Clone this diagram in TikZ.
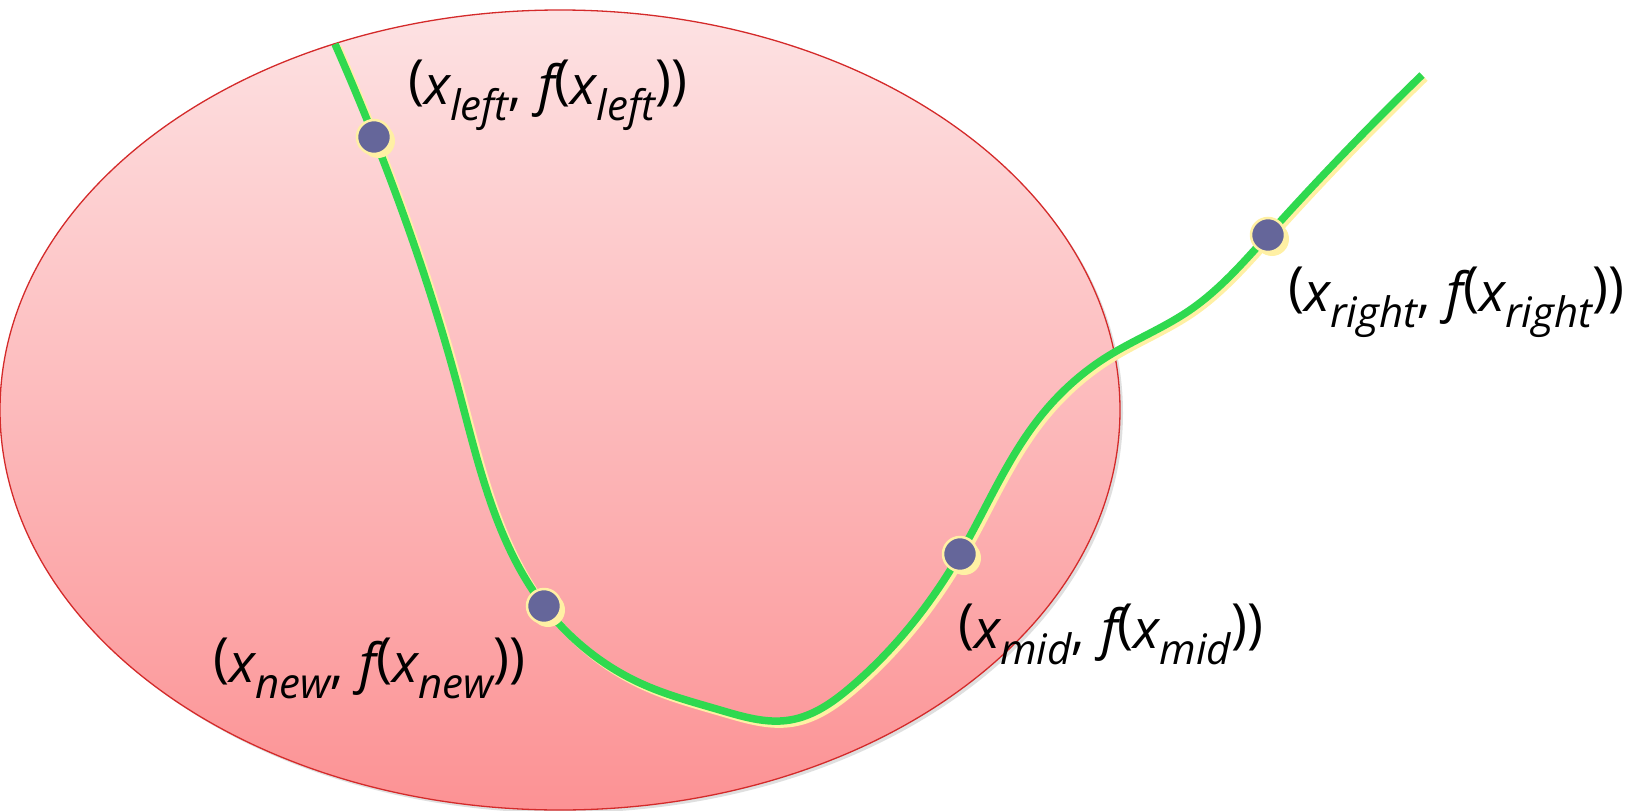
\documentclass[tikz,border=0pt]{standalone}
\usepackage{fontspec}
\usetikzlibrary{hobby}
\setmainfont{Open Sans}
\definecolor{topPink}{HTML}{FDE2E3}
\definecolor{botPink}{HTML}{FC9294}
\definecolor{rim}{HTML}{D42A2A}
\definecolor{curveGreen}{HTML}{2FD94F}
\definecolor{paleYellow}{HTML}{FFF0A4}
\definecolor{dotBlue}{HTML}{65669A}
\newcommand\sbx[1]{\raisebox{-0.3em}{\fontsize{42}{44}\selectfont\itshape #1}}
\newcommand\lpar{\raisebox{0.1em}{\upshape(}}
\newcommand\rpar{\raisebox{0.1em}{\upshape)}}
\newcommand\ptlab[1]{\lpar{\itshape x}\sbx{#1},\hspace{0.3em}{\itshape f}\lpar{\itshape x}\sbx{#1}\rpar\rpar}
\tikzset{
  lab/.style={anchor=base west, inner sep=0pt, font=\fontsize{54}{60}\selectfont},
  dotnode/.style={circle, fill=dotBlue, draw=paleYellow, line width=2.5pt, minimum size=34pt, inner sep=0pt},
  dotshadow/.style={circle, fill=paleYellow, minimum size=34pt, inner sep=0pt},
  curveline/.style={line width=7.5pt, line join=round, use Hobby shortcut},
}
\begin{document}
\begin{tikzpicture}[x=1pt,y=-1pt]
\useasboundingbox (0,0) rectangle (1628,811);
% shadow of ellipse
\fill[black!25, opacity=0.5] (563,413) ellipse [x radius=560pt, y radius=400pt];
\shade[top color=topPink, bottom color=botPink] (560,410) ellipse [x radius=560pt, y radius=400pt];
\draw[rim, line width=1.3pt] (560,410) ellipse [x radius=560pt, y radius=400pt];

% dot positions and curve knots
\coordinate (s) at (335,44);
\coordinate (pL) at (374,137);
\coordinate (a1) at (457,384);
\coordinate (pN) at (544,606);
\coordinate (a2) at (640,683);
\coordinate (a2b) at (720,710);
\coordinate (a3) at (790,720);
\coordinate (a4) at (852,686);
\coordinate (pM) at (960,554);
\coordinate (a5) at (1040,417);
\coordinate (a6) at (1105,358);
\coordinate (a7) at (1190,310);
\coordinate (pR) at (1268,235);
\coordinate (e) at (1422,75);

\def\curvepath{(s) .. (pL) .. (a1) .. (pN) .. (a2) .. (a2b) .. (a3) .. (a4) .. (pM) .. (a5) .. (a6) .. (a7) .. (pR) .. (e)}
\begin{scope}[transform canvas={shift={(3pt,-3pt)}}]
  \draw[paleYellow, curveline] \curvepath;
\end{scope}
\draw[curveGreen, curveline] \curvepath;

% dots
\foreach \p in {pL,pN,pM,pR}{
  \node[dotshadow] at ([shift={(4pt,-4pt)}]\p) {};
}
\node[dotnode] (dL) at (pL) {};
\node[dotnode] (dN) at (pN) {};
\node[dotnode] (dM) at (pM) {};
\node[dotnode] (dR) at (pR) {};

% labels
\node[lab] (tL) at (408,104) {\ptlab{left}};
\node[lab] (tR) at (1288,311) {\ptlab{right}};
\node[lab] (tN) at (213,682) {\ptlab{new}};
\node[lab] (tM) at (958,648) {\ptlab{mid}};
\end{tikzpicture}
\end{document}
